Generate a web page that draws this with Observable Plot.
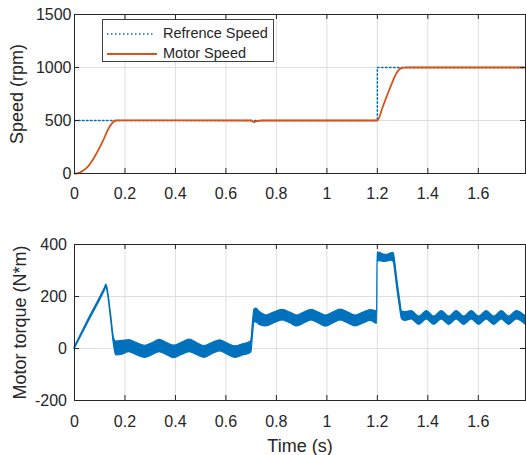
<!DOCTYPE html>
<html><head><meta charset="utf-8">
<script src="https://cdn.jsdelivr.net/npm/d3@7"></script>
<script src="https://cdn.jsdelivr.net/npm/@observablehq/plot@0.6"></script>
<style>
body{margin:0;background:#fff;}
#chart{position:relative;width:526px;height:455px;font-family:"Liberation Sans",Arial,Helvetica,sans-serif;color:#262626;}
#chart svg{display:block;}
.legend{position:absolute;left:102px;top:19px;width:172px;height:43px;border:1px solid #404040;background:#fff;box-sizing:border-box;font-size:14.5px;}
.legend .row{position:absolute;left:0;height:20px;width:170px;}
.legend svg{position:absolute;left:4px;top:9px;}
.legend span{position:absolute;left:60px;top:1px;line-height:18px;white-space:nowrap;}
</style>
</head><body>
<div id="chart"></div>
<script>
// ---- data ----
const xTicks = [0, 0.2, 0.4, 0.6, 0.8, 1, 1.2, 1.4, 1.6];
const xMax = 1.787;
const speedTicks = [0, 500, 1000, 1500];
const torqueTicks = [-200, 0, 200, 400];

const refTime  = [0, 1.2, 1.2, 1.787];
const refSpeed = [500, 500, 1000, 1000];

const motorTime  = [0, 0.01, 0.02, 0.035, 0.05, 0.075, 0.1, 0.115, 0.128, 0.14, 0.15, 0.158, 0.165, 0.175, 0.7, 0.705, 0.712, 0.72, 0.73, 0.745, 1.2, 1.22, 1.24, 1.26, 1.275, 1.285, 1.295, 1.305, 1.32, 1.787];
const motorSpeed = [0, 2, 9, 28, 57, 140, 246, 320, 390, 445, 478, 494, 500, 501, 500, 491, 486, 492, 497, 500, 500, 620, 745, 865, 945, 978, 994, 999, 1000, 1000];

const torqueTime = [0, 0.06, 0.115, 0.121, 0.126, 0.13, 0.145, 0.157, 0.165, 0.19, 0.217, 0.245, 0.28, 0.31, 0.337, 0.365, 0.395, 0.425, 0.456, 0.485, 0.516, 0.546, 0.577, 0.607, 0.638, 0.668, 0.698, 0.701, 0.708, 0.713, 0.72, 0.735, 0.76, 0.79, 0.824, 0.855, 0.883, 0.91, 0.939, 0.968, 0.996, 1.025, 1.055, 1.085, 1.114, 1.145, 1.174, 1.199, 1.201, 1.21, 1.225, 1.24, 1.255, 1.265, 1.27, 1.28, 1.29, 1.298, 1.31, 1.336, 1.366, 1.396, 1.425, 1.455, 1.485, 1.514, 1.544, 1.574, 1.603, 1.633, 1.663, 1.693, 1.722, 1.752, 1.787];
const torqueLow  = [-3, 110, 212, 224, 235, 224, 110, 10, -27, -24, -14, -25, -36, -25, -14, -25, -37, -25, -14, -25, -36, -22, -11, -24, -36, -27, -17, -14, 60, 100, 100, 90, 85, 96, 108, 97, 85, 96, 108, 96, 84, 96, 108, 96, 85, 96, 106, 95, 334, 336, 333, 335, 338, 332, 300, 222, 155, 112, 106, 112, 91, 112, 91, 112, 91, 112, 91, 112, 91, 112, 91, 112, 91, 112, 92];
const torqueHigh = [3, 120, 222, 234, 246, 236, 130, 38, 27, 29, 32, 22, 10, 21, 33, 22, 11, 22, 34, 21, 9, 21, 31, 19, 8, 16, 26, 32, 110, 150, 153, 140, 127, 138, 149, 138, 127, 138, 149, 138, 127, 138, 150, 138, 127, 138, 148, 144, 369, 368, 361, 360, 366, 367, 338, 258, 188, 142, 140, 144, 123, 144, 123, 144, 123, 144, 123, 144, 123, 144, 123, 144, 123, 144, 124];

const legendLabels = ["Refrence Speed", "Motor Speed"];

// ---- styling ----
const FONT = '"Liberation Sans", Arial, Helvetica, sans-serif';
const INK = "#262626";
const GRID = "#dfdfdf";
const BLUE = "#0072BD";
const ORANGE = "#D95319";
const W = 526, ML = 74, MR = 1;
const innerW = W - ML - MR;

const refRows = refTime.map((t, i) => ({t, v: refSpeed[i]}));
const motorRows = motorTime.map((t, i) => ({t, v: motorSpeed[i]}));
const torqueRows = torqueTime.map((t, i) => ({t, lo: torqueLow[i], hi: torqueHigh[i]}));

function boxTicks(yTicks, innerH) {
  return [
    Plot.ruleX(xTicks, {x: d => d, insetTop: innerH - 5, stroke: INK}),
    Plot.ruleX(xTicks, {x: d => d, insetBottom: innerH - 5, stroke: INK}),
    Plot.ruleY(yTicks, {y: d => d, insetRight: innerW - 5, stroke: INK}),
    Plot.ruleY(yTicks, {y: d => d, insetLeft: innerW - 5, stroke: INK})
  ];
}

// top plot
const H1 = 215, MT1 = 14, MB1 = 42;
const speedPlot = Plot.plot({
  width: W, height: H1, marginLeft: ML, marginRight: MR, marginTop: MT1, marginBottom: MB1,
  style: {fontFamily: FONT, fontSize: "16px", color: INK, background: "white", overflow: "visible"},
  x: {domain: [0, xMax]},
  y: {domain: [0, 1500]},
  marks: [
    Plot.gridX(xTicks, {stroke: GRID, strokeOpacity: 1}),
    Plot.gridY(speedTicks, {stroke: GRID, strokeOpacity: 1}),
    Plot.line(refRows, {x: "t", y: "v", stroke: BLUE, strokeWidth: 1.5, strokeDasharray: "1.5,2.5"}),
    Plot.line(motorRows, {x: "t", y: "v", stroke: ORANGE, strokeWidth: 1.8, curve: "monotone-x"}),
    Plot.frame({stroke: INK}),
    ...boxTicks(speedTicks, H1 - MT1 - MB1),
    Plot.axisX(xTicks, {tickSize: 0, tickPadding: 14, tickFormat: d => String(d), fontSize: 16, label: null}),
    Plot.axisY(speedTicks, {tickSize: 0, tickPadding: 3, tickFormat: d => String(d), fontSize: 16, label: null}),
    Plot.text(["Speed (rpm)"], {frameAnchor: "left", dx: -57, rotate: -90, textAnchor: "middle", fontSize: 18, fill: INK})
  ]
});

// bottom plot
const H2 = 240, MT2 = 29, MB2 = 55;
const torquePlot = Plot.plot({
  width: W, height: H2, marginLeft: ML, marginRight: MR, marginTop: MT2, marginBottom: MB2,
  style: {fontFamily: FONT, fontSize: "16px", color: INK, background: "white", overflow: "visible"},
  x: {domain: [0, xMax]},
  y: {domain: [-200, 400]},
  marks: [
    Plot.gridX(xTicks, {stroke: GRID, strokeOpacity: 1}),
    Plot.gridY(torqueTicks, {stroke: GRID, strokeOpacity: 1}),
    Plot.areaY(torqueRows, {x: "t", y1: "lo", y2: "hi", fill: BLUE, stroke: BLUE, strokeWidth: 1.2, curve: "monotone-x"}),
    Plot.frame({stroke: INK}),
    ...boxTicks(torqueTicks, H2 - MT2 - MB2),
    Plot.axisX(xTicks, {tickSize: 0, tickPadding: 15, tickFormat: d => String(d), fontSize: 16, label: null}),
    Plot.axisY(torqueTicks, {tickSize: 0, tickPadding: 7.5, tickFormat: d => String(d), fontSize: 16, label: null}),
    Plot.text(["Motor torque (N*m)"], {frameAnchor: "left", dx: -54, rotate: -90, textAnchor: "middle", fontSize: 18, fill: INK}),
    Plot.text(["Time (s)"], {frameAnchor: "bottom", dy: 51, fontSize: 18, fill: INK})
  ]
});

const chart = document.getElementById("chart");
chart.appendChild(speedPlot);
chart.appendChild(torquePlot);

// legend
const legend = document.createElement("div");
legend.className = "legend";
const samples = [
  `<svg width="50" height="4"><line x1="0" x2="48" y1="2" y2="2" stroke="${BLUE}" stroke-width="1.5" stroke-dasharray="1.5,2.5"/></svg>`,
  `<svg width="50" height="4"><line x1="0" x2="50" y1="2" y2="2" stroke="${ORANGE}" stroke-width="1.8"/></svg>`
];
legendLabels.forEach((lab, i) => {
  const row = document.createElement("div");
  row.className = "row";
  row.style.top = (3 + i * 20) + "px";
  row.innerHTML = samples[i] + `<span>${lab}</span>`;
  legend.appendChild(row);
});
chart.appendChild(legend);
</script>
</body></html>
